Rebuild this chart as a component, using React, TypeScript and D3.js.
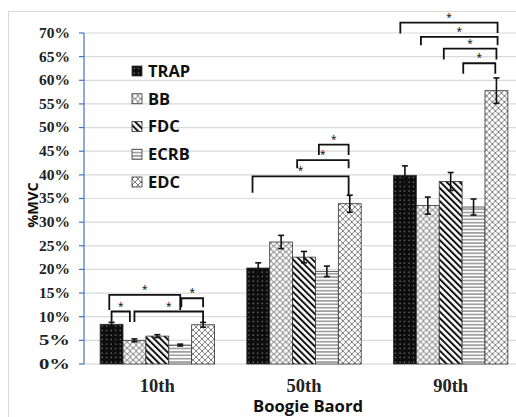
import React from 'react';
import * as d3 from 'd3';

const groups = ['10th', '50th', '90th'];
const series = ['TRAP', 'BB', 'FDC', 'ECRB', 'EDC'];

// mean %MVC per group, one array per muscle
const trap = [8.4, 20.3, 39.9];
const bb = [5.0, 25.8, 33.5];
const fdc = [5.9, 22.6, 38.6];
const ecrb = [4.0, 19.6, 33.2];
const edc = [8.3, 33.9, 57.8];

// standard error
const trapErr = [0.4, 1.1, 2.0];
const bbErr = [0.3, 1.4, 1.8];
const fdcErr = [0.3, 1.2, 1.9];
const ecrbErr = [0.2, 1.1, 1.7];
const edcErr = [0.5, 1.8, 2.7];

const yTicks = [0, 5, 10, 15, 20, 25, 30, 35, 40, 45, 50, 55, 60, 65, 70];

// significance brackets: group, from / to (series index, fractional), level and leg ends in %
const brackets = [
  { g: '10th', from: 0, to: 0.8, level: 11.1, endA: 8.9, endB: 8.9 },
  { g: '10th', from: 1, to: 4, level: 11.1, endA: 8.9, endB: 8.6 },
  { g: '10th', from: -0.1, to: 3, level: 14.6, endA: 11.4, endB: 11.4 },
  { g: '10th', from: 3.05, to: 4, level: 13.9, endA: 12.0, endB: 12.0 },
  { g: '50th', from: -0.25, to: 3.95, level: 39.7, endA: 36.2, endB: 35.5 },
  { g: '50th', from: 1.7, to: 3.95, level: 43.1, endA: 41.4, endB: 41.4 },
  { g: '50th', from: 2.65, to: 3.95, level: 46.4, endA: 44.2, endB: 44.2 },
  { g: '90th', from: -0.2, to: 4.05, level: 72.2, endA: 69.9, endB: 70.0 },
  { g: '90th', from: 0.7, to: 4.05, level: 69.2, endA: 67.4, endB: 67.4 },
  { g: '90th', from: 1.7, to: 4.0, level: 66.7, endA: 64.4, endB: 64.4 },
  { g: '90th', from: 2.55, to: 3.95, level: 63.6, endA: 61.4, endB: 61.4 },
];

const values = [trap, bb, fdc, ecrb, edc];
const errors = [trapErr, bbErr, fdcErr, ecrbErr, edcErr];

const W = 516;
const H = 417;
const serif = '"Liberation Serif", "Times New Roman", serif';
const sans = '"Open Sans", "Noto Sans", sans-serif';

export default function App() {
  const y = d3.scaleLinear().domain([0, 70]).range([364, 33]);
  const x0 = d3.scaleBand().domain(groups).range([84, 524]).paddingInner(0.22).paddingOuter(0.11);
  const x1 = d3.scaleBand().domain(series).range([0, x0.bandwidth()]);
  const bw = x1.bandwidth();
  const legendY = d3.scalePoint().domain(series).range([71, 182]);
  const fx = (g: string, i: number) => (x0(g) as number) + (i + 0.5) * bw;

  return (
    <svg width={W} height={H} style={{ position: 'absolute', left: 0, top: 0, background: '#fff' }}>
      <defs>
        <pattern id="pTRAP" width="4.5" height="4.5" patternUnits="userSpaceOnUse">
          <rect width="4.5" height="4.5" fill="#0d0d0d" />
          <rect x="1.5" y="1.5" width="1.2" height="1.2" fill="#8a8a8a" />
        </pattern>
        <pattern id="pBB" width="6" height="6" patternUnits="userSpaceOnUse">
          <rect width="6" height="6" fill="#fff" />
          <circle cx="3" cy="3" r="2.5" fill="none" stroke="#7a7a7a" strokeWidth="0.9" />
        </pattern>
        <pattern id="pFDC" width="4.6" height="4.6" patternUnits="userSpaceOnUse" patternTransform="rotate(-45)">
          <rect width="4.6" height="4.6" fill="#fff" />
          <rect x="0" y="0" width="2" height="4.6" fill="#111" />
        </pattern>
        <pattern id="pECRB" width="4" height="3.4" patternUnits="userSpaceOnUse">
          <rect width="4" height="3.4" fill="#fff" />
          <rect x="0" y="1.2" width="4" height="1" fill="#5f5f5f" />
        </pattern>
        <pattern id="pEDC" width="6" height="6" patternUnits="userSpaceOnUse">
          <rect width="6" height="6" fill="#fff" />
          <path d="M0,3 L3,0 L6,3 L3,6 Z" fill="none" stroke="#6f6f6f" strokeWidth="0.9" />
        </pattern>
      </defs>

      <rect x={8.5} y={11.5} width={520} height={420} fill="#fff" stroke="#d9d9d9" />

      {/* gridlines and y axis */}
      {yTicks.map((t) => (
        <g key={t}>
          <line x1={84} x2={W} y1={y(t)} y2={y(t)} stroke={t === 0 ? '#cfcfcf' : '#d9d9d9'} strokeWidth={1.2} />
          <line x1={79} x2={84} y1={y(t)} y2={y(t)} stroke="#4472c4" strokeWidth={1.2} />
          <text x={70} y={y(t)} dy="0.35em" textAnchor="end" fontFamily={serif} fontWeight="bold" fontSize={14}
            textLength={31} lengthAdjust="spacingAndGlyphs" fill="#222">{t}%</text>
        </g>
      ))}
      <line x1={84} x2={84} y1={y(70)} y2={y(0)} stroke="#4472c4" strokeWidth={1.2} />

      {/* bars */}
      {groups.map((g, gi) => (
        <g key={g} transform={`translate(${x0(g)},0)`}>
          {series.map((s, si) => {
            const v = values[si][gi];
            const e = errors[si][gi];
            const cx = (x1(s) as number) + bw / 2;
            return (
              <g key={s}>
                <rect x={x1(s)} y={y(v)} width={bw} height={y(0) - y(v)} fill={`url(#p${s})`} stroke="#333" strokeWidth={0.8} />
                <line x1={cx} x2={cx} y1={y(v + e)} y2={y(v - e)} stroke="#111" strokeWidth={1.6} />
                <line x1={cx - 3} x2={cx + 3} y1={y(v + e)} y2={y(v + e)} stroke="#111" strokeWidth={1.6} />
                <line x1={cx - 3} x2={cx + 3} y1={y(v - e)} y2={y(v - e)} stroke="#111" strokeWidth={1.6} />
              </g>
            );
          })}
        </g>
      ))}

      {/* significance brackets */}
      {brackets.map((b, i) => {
        const xa = fx(b.g, b.from);
        const xb = fx(b.g, b.to);
        return (
          <g key={i}>
            <path d={`M${xa},${y(b.endA)}V${y(b.level)}H${xb}V${y(b.endB)}`} fill="none" stroke="#111" strokeWidth={1.8} />
            <text x={(xa + xb) / 2} y={y(b.level) - 2} textAnchor="middle" fontFamily={sans} fontSize={10} fill="#000">*</text>
          </g>
        );
      })}

      {/* legend */}
      {series.map((s) => (
        <g key={s} transform={`translate(132,${legendY(s)})`}>
          <rect x={0} y={-5} width={10} height={10} fill={`url(#p${s})`} stroke="#333" strokeWidth={0.8} />
          <text x={16} y={0} dy="0.36em" fontFamily={sans} fontWeight="bold" fontSize={16.5} fill="#111">{s}</text>
        </g>
      ))}

      {/* x labels */}
      {groups.map((g) => (
        <text key={g} x={(x0(g) as number) + x0.bandwidth() / 2} y={386} dy="0.35em" textAnchor="middle"
          fontFamily={serif} fontWeight="bold" fontSize={18.5} fill="#222">{g}</text>
      ))}
      <text x={308} y={412} textAnchor="middle" fontFamily={sans} fontWeight="bold" fontSize={16}
        textLength={110} lengthAdjust="spacingAndGlyphs" fill="#111">Boogie Baord</text>
      <text transform="translate(33,205) rotate(-90)" dy="0.35em" textAnchor="middle" fontFamily={sans} fontWeight="bold" fontSize={14.5} fill="#111">%MVC</text>
    </svg>
  );
}
